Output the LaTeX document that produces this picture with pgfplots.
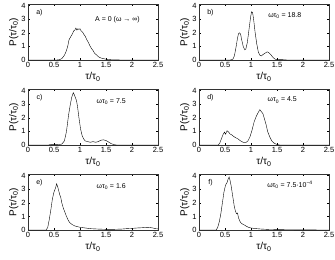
\documentclass[border=0pt]{standalone}
\usepackage{fontspec}
\setmainfont{Liberation Sans}
\usepackage{pgfplots}
\pgfplotsset{compat=1.18}
\usepgfplotslibrary{groupplots}
\newcommand{\tl}{τ/τ\textsubscript{0}}
\begin{document}
\begin{tikzpicture}
\begin{groupplot}[
  group style={group size=2 by 3, horizontal sep=41pt, vertical sep=29pt},
  scale only axis, width=130pt, height=56pt,
  xmin=0, xmax=2.5, ymin=0, ymax=4.12,
  xtick={0,0.5,1,1.5,2,2.5}, ytick={0,1,2,3,4},
  tick align=inside, tick style={black, line width=0.3pt}, major tick length=2pt,
  axis line style={line width=0.4pt, black!80},
  /pgf/number format/assume math mode=true,
  ticklabel style={font=\fontsize{7.5}{8}\selectfont},
  xticklabel style={yshift=1pt}, yticklabel style={xshift=1pt},
  xlabel={\tl}, ylabel={P(\tl)},
  label style={font=\fontsize{10}{11}\selectfont},
  xlabel style={yshift=2pt}, ylabel style={yshift=-4pt},
  cycle list={{black, line width=0.7pt, mark=none}},
  xticklabel style={/pgf/number format/.cd, fixed, precision=1},
]
\nextgroupplot
\addplot coordinates {(0,0) (0.55,0) (0.6,0.02) (0.65,0.1) (0.7,0.35) (0.73,0.6) (0.76,0.95) (0.79,1.5) (0.82,1.7) (0.85,1.9) (0.88,2.15) (0.9,2.2) (0.92,2.35) (0.94,2.2) (0.96,2.3) (0.98,2.25) (1.0,2.3) (1.02,2.15) (1.05,2.05) (1.08,1.85) (1.1,1.75) (1.13,1.5) (1.16,1.3) (1.19,1.05) (1.22,0.85) (1.25,0.7) (1.28,0.5) (1.31,0.4) (1.35,0.25) (1.4,0.15) (1.45,0.1) (1.5,0.06) (1.6,0.02) (1.7,0.01) (1.8,0) (2.5,0)};
\node[font=\fontsize{7}{7}\selectfont] at (axis cs:0.22,3.5) {a)};
\node[font=\fontsize{7}{7}\selectfont] at (axis cs:1.72,3.0) {A = 0 (ω → ∞)};
\nextgroupplot
\addplot coordinates {(0,0) (0.6,0) (0.65,0.05) (0.68,0.3) (0.71,0.9) (0.74,1.6) (0.76,1.95) (0.78,2.0) (0.8,1.9) (0.82,1.5) (0.85,1.0) (0.88,0.75) (0.9,0.8) (0.93,1.3) (0.96,2.2) (0.99,3.1) (1.01,3.55) (1.03,3.5) (1.05,3.0) (1.08,2.0) (1.11,1.2) (1.14,0.6) (1.17,0.35) (1.2,0.3) (1.23,0.4) (1.27,0.5) (1.31,0.6) (1.34,0.55) (1.38,0.4) (1.42,0.2) (1.46,0.07) (1.5,0.02) (1.6,0.03) (1.65,0.01) (1.7,0) (2.5,0)};
\node[font=\fontsize{7}{7}\selectfont] at (axis cs:0.22,3.5) {b)};
\node[font=\fontsize{7}{7}\selectfont] at (axis cs:1.65,3.3) {ωτ\textsubscript{0} = 18.8};
\nextgroupplot
\addplot coordinates {(0,0) (0.4,0) (0.42,0.04) (0.5,0.05) (0.6,0.04) (0.65,0.07) (0.7,0.3) (0.74,1.0) (0.78,2.2) (0.81,2.9) (0.84,3.5) (0.87,3.85) (0.89,3.7) (0.91,3.5) (0.93,3.3) (0.95,2.9) (0.98,2.0) (1.01,1.2) (1.04,0.7) (1.07,0.45) (1.1,0.3) (1.15,0.25) (1.2,0.2) (1.25,0.25) (1.3,0.2) (1.35,0.25) (1.4,0.35) (1.45,0.38) (1.5,0.33) (1.55,0.22) (1.6,0.1) (1.65,0.03) (1.7,0) (2.5,0)};
\node[font=\fontsize{7}{7}\selectfont] at (axis cs:0.22,3.5) {c)};
\node[font=\fontsize{7}{7}\selectfont] at (axis cs:1.6,3.2) {ωτ\textsubscript{0} = 7.5};
\nextgroupplot
\addplot coordinates {(0,0) (0.37,0) (0.4,0.15) (0.43,0.45) (0.46,0.75) (0.49,0.95) (0.51,0.8) (0.54,1.05) (0.57,0.95) (0.6,0.8) (0.63,0.75) (0.66,0.65) (0.7,0.55) (0.75,0.45) (0.8,0.3) (0.85,0.2) (0.9,0.18) (0.94,0.3) (0.98,0.6) (1.02,1.1) (1.06,1.7) (1.1,2.1) (1.14,2.4) (1.17,2.6) (1.2,2.45) (1.23,2.3) (1.26,1.9) (1.29,1.5) (1.32,1.0) (1.36,0.6) (1.4,0.3) (1.45,0.12) (1.5,0.04) (1.55,0) (2.5,0)};
\node[font=\fontsize{7}{7}\selectfont] at (axis cs:0.22,3.5) {d)};
\node[font=\fontsize{7}{7}\selectfont] at (axis cs:1.6,3.3) {ωτ\textsubscript{0} = 4.5};
\nextgroupplot
\addplot coordinates {(0,0) (0.35,0) (0.38,0.2) (0.41,0.8) (0.44,1.5) (0.47,2.3) (0.5,2.8) (0.53,3.1) (0.55,3.4) (0.57,3.2) (0.59,2.9) (0.61,2.6) (0.63,2.4) (0.65,2.0) (0.68,1.6) (0.71,1.3) (0.74,1.0) (0.77,0.75) (0.8,0.55) (0.85,0.4) (0.9,0.3) (0.95,0.25) (1.0,0.2) (1.1,0.15) (1.2,0.1) (1.35,0.07) (1.5,0.05) (1.65,0.05) (1.8,0.07) (1.9,0.1) (2.0,0.12) (2.1,0.15) (2.2,0.17) (2.3,0.2) (2.35,0.18) (2.4,0.15) (2.45,0.1) (2.5,0.08)};
\node[font=\fontsize{7}{7}\selectfont] at (axis cs:0.22,3.5) {e)};
\node[font=\fontsize{7}{7}\selectfont] at (axis cs:1.6,3.2) {ωτ\textsubscript{0} = 1.6};
\nextgroupplot
\addplot coordinates {(0,0) (0.33,0) (0.36,0.2) (0.39,0.6) (0.42,1.2) (0.45,2.0) (0.48,2.8) (0.51,3.3) (0.54,3.5) (0.56,3.75) (0.58,3.9) (0.6,3.6) (0.62,3.2) (0.64,2.7) (0.66,2.2) (0.68,1.7) (0.7,1.4) (0.72,1.2) (0.74,1.25) (0.76,0.9) (0.78,0.7) (0.8,0.55) (0.83,0.45) (0.86,0.4) (0.9,0.3) (0.95,0.2) (1.0,0.15) (1.1,0.1) (1.2,0.07) (1.35,0.04) (1.5,0.03) (1.7,0.02) (2.0,0.01) (2.5,0)};
\node[font=\fontsize{7}{7}\selectfont] at (axis cs:0.22,3.5) {f)};
\node[font=\fontsize{7}{7}\selectfont] at (axis cs:1.75,3.3) {ωτ\textsubscript{0} = 7.5·10\textsuperscript{−4}};
\end{groupplot}
\pgfresetboundingbox
\path ([xshift=-28pt,yshift=4pt]group c1r1.north west) rectangle ([xshift=6pt,yshift=-29pt]group c2r3.south east);
\end{tikzpicture}
\end{document}
